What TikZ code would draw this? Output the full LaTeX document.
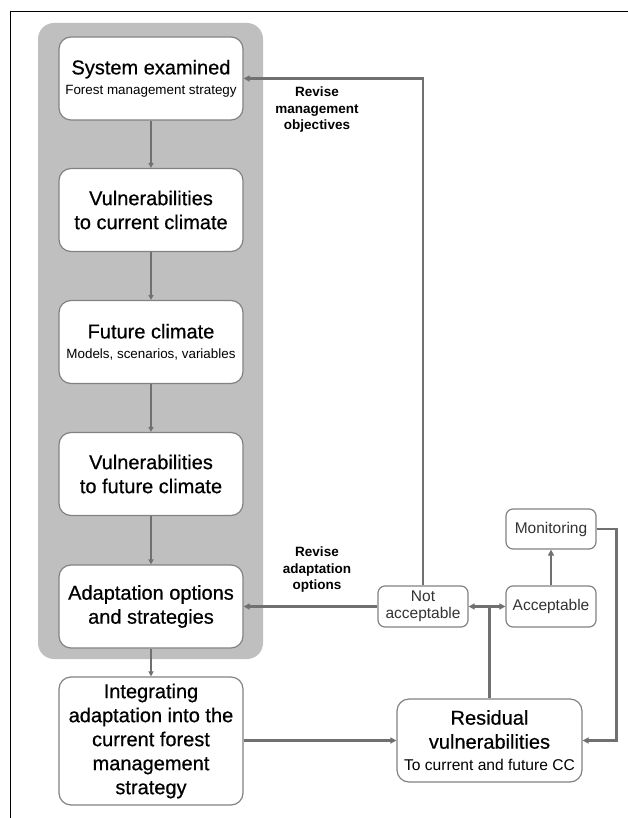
\documentclass[tikz,border=0pt]{standalone}
\usepackage{fontspec}
\setmainfont{Liberation Sans}
\newfontfamily\titlefont[FakeBold=0.6]{Liberation Sans}
\usetikzlibrary{arrows.meta}
\definecolor{bggray}{RGB}{191,191,191}
\definecolor{boxline}{RGB}{130,130,130}
\definecolor{linegray}{RGB}{112,112,112}
\newcommand\ttl{\titlefont\fontsize{20}{24}\selectfont}
\newcommand\subt{\normalfont\fontsize{13.4}{16}\selectfont}
\tikzset{
  box/.style={draw=boxline, line width=1.2pt, fill=white, rounded corners=12pt,
    minimum width=184pt, minimum height=83pt, inner sep=0pt, align=center, font=\ttl},
  smallbox/.style={draw=boxline, line width=1.2pt, fill=white, rounded corners=7pt,
    minimum width=90pt, minimum height=41pt, inner sep=0pt, align=center,
    font=\fontsize{15.5}{17}\selectfont, text=black!80},
  conn/.style={draw=linegray, line width=2.4pt, -{Triangle[length=6pt,width=6pt]}},
  thinconn/.style={draw=linegray, line width=1.6pt, -{Triangle[length=5pt,width=5pt]}},
  plainconn/.style={draw=linegray, line width=2.4pt},
  lbl/.style={font=\fontsize{13.5}{16.5}\selectfont\bfseries, align=center},
}
\begin{document}
\begin{tikzpicture}[x=1pt,y=-1pt]
\useasboundingbox (0,0) rectangle (628,818);
\fill[white] (0,0) rectangle (628,818);
\draw[black, line width=1pt] (10,818) -- (10,12) -- (628,12);
\fill[bggray, rounded corners=16pt] (38,23) rectangle (263,659);

\node[box] (b1) at (151,78.5) {System examined\\[-4pt]{\subt Forest management strategy}};
\node[box] (b2) at (151,210) {Vulnerabilities\\to current climate};
\node[box] (b3) at (151,342) {Future climate\\[-4pt]{\subt Models, scenarios, variables}};
\node[box] (b4) at (151,474) {Vulnerabilities\\to future climate};
\node[box] (b5) at (151,606.5) {Adaptation options\\and strategies};
\node[box, minimum height=128pt] (b6) at (151,741) {Integrating\\adaptation into the\\current forest\\management\\strategy};
\node[box, minimum width=185pt] (res) at (489.5,740.5) {Residual\\vulnerabilities\\[-2pt]{\normalfont\fontsize{15.6}{18}\selectfont To current and future CC}};

\node[smallbox] (na) at (423,606.5) {Not\\acceptable};
\node[smallbox] (acc) at (551,606.5) {Acceptable};
\node[smallbox, minimum height=40pt] (mon) at (551,529) {Monitoring};

\node[lbl] (l1) at (317,110) {Revise\\management\\objectives};
\node[lbl] (l2) at (317,570) {Revise\\adaptation\\options};

\draw[thinconn] (b1) -- (b2);
\draw[thinconn] (b2) -- (b3);
\draw[thinconn] (b3) -- (b4);
\draw[thinconn] (b4) -- (b5);
\draw[thinconn] (b5) -- (b6);

\draw[conn] (na.north) |- (b1.east);
\draw[conn] (na.west) -- (b5.east);
\draw[conn, {Triangle[length=6pt,width=6pt]}-{Triangle[length=6pt,width=6pt]}] (na.east) -- (acc.west);
\draw[plainconn] (res.north) -- (res.north |- na.east);
\draw[conn] (acc.north) -- (mon.south);
\draw[conn] (mon.east) -- ++(20,0) |- (res.east);
\draw[conn] (b6.east |- res.west) -- (res.west);
\end{tikzpicture}
\end{document}
